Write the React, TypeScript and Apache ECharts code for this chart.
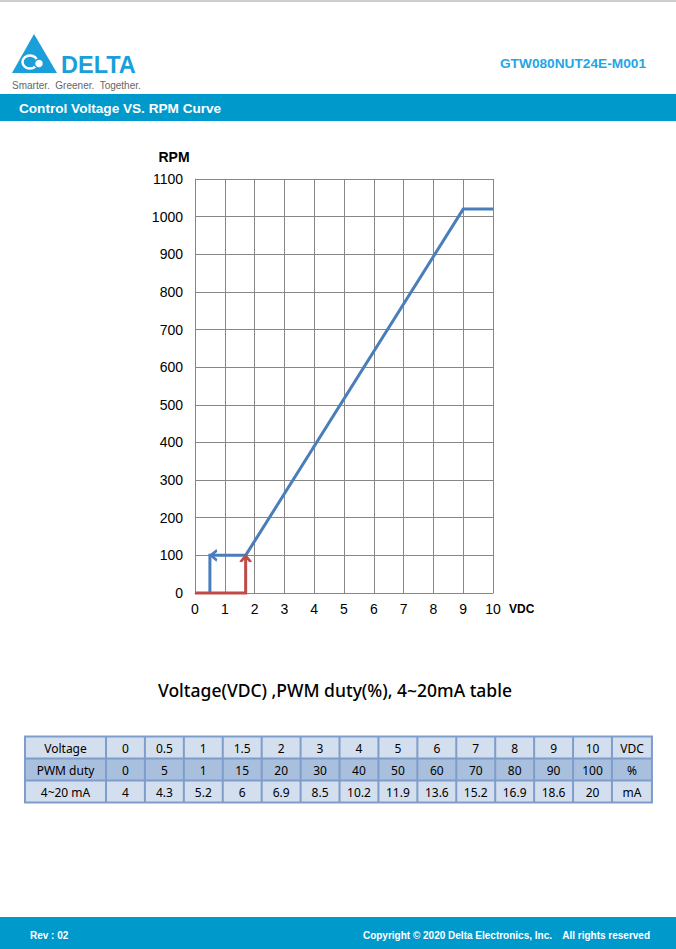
import React, { useEffect, useRef } from "react";
import * as echarts from "echarts";

// ---- chart data ----
const curveVdc = [1.7, 9, 10];
const curveRpm = [100, 1020, 1020];
const startVdc = [0, 1.7, 1.7];
const startRpm = [0, 0, 100];
const stopVdc = [1.7, 0.5, 0.5];
const stopRpm = [100, 100, 0];

// ---- table data ----
const rowLabels = ["Voltage", "PWM duty", "4~20 mA"];
const rowUnits = ["VDC", "%", "mA"];
const tableVoltage = ["0", "0.5", "1", "1.5", "2", "3", "4", "5", "6", "7", "8", "9", "10"];
const tablePwmDuty = ["0", "5", "1", "15", "20", "30", "40", "50", "60", "70", "80", "90", "100"];
const tableCurrent = ["4", "4.3", "5.2", "6", "6.9", "8.5", "10.2", "11.9", "13.6", "15.2", "16.9", "18.6", "20"];

const BLUE = "#4A7EBB";
const RED = "#BE4B48";
const GRID = "#878787";
const BAND = "#0099CC";
const LOGO = "#1B9FDA";
const AR = "'Liberation Sans', Arial, sans-serif";
const OS = "'Noto Sans', 'Open Sans', sans-serif";

function buildTable(): any[] {
  const x0 = 25;
  const y0 = 736.5;
  const labelW = 81;
  const cellW = 38.92;
  const unitW = 40;
  const rowH = 22;
  const rows = [tableVoltage, tablePwmDuty, tableCurrent];
  const fills = ["#D3DEEE", "#A9BFDE", "#D3DEEE"];
  const els: any[] = [];
  const colX: number[] = [x0, x0 + labelW];
  for (let i = 0; i < tableVoltage.length; i++) colX.push(x0 + labelW + cellW * (i + 1));
  colX.push(colX[colX.length - 1] + unitW);
  const totalW = colX[colX.length - 1] - x0;
  rows.forEach((vals, r) => {
    const y = y0 + r * rowH;
    els.push({ type: "rect", shape: { x: x0, y, width: totalW, height: rowH }, style: { fill: fills[r] } });
    const cells = [rowLabels[r], ...vals, rowUnits[r]];
    cells.forEach((t, c) => {
      els.push({
        type: "text",
        x: (colX[c] + colX[c + 1]) / 2,
        y: y + rowH / 2 + 0.5,
        style: { text: t, fill: "#000", font: `12px ${OS}`, align: "center", verticalAlign: "middle" },
      });
    });
  });
  const lineStyle = { stroke: "#7E9DCB", lineWidth: 2 };
  for (let r = 0; r <= rows.length; r++) {
    const y = y0 + r * rowH;
    els.push({ type: "line", shape: { x1: x0 - 1, y1: y, x2: x0 + totalW + 1, y2: y }, style: lineStyle });
  }
  colX.forEach((x) => {
    els.push({ type: "line", shape: { x1: x, y1: y0, x2: x, y2: y0 + rows.length * rowH }, style: lineStyle });
  });
  return els;
}

function buildHeaderFooter(): any[] {
  const narrow = `bold 10px 'Liberation Sans Narrow', ${AR}`;
  return [
    { type: "rect", shape: { x: 0, y: 0, width: 676, height: 2 }, style: { fill: "#CDCDCD" } },
    // logo
    { type: "polygon", shape: { points: [[12, 73], [34, 34], [57, 73]] }, style: { fill: LOGO } },
    { type: "ellipse", shape: { cx: 30, cy: 62, rx: 7.5, ry: 6.5 }, style: { fill: "none", stroke: "#fff", lineWidth: 2.5 } },
    { type: "circle", shape: { cx: 39, cy: 63.5, r: 4.5 }, style: { fill: "#fff", stroke: LOGO, lineWidth: 1.5 } },
    { type: "text", x: 61, y: 65, style: { text: "DELTA", fill: LOGO, font: `900 23.5px ${AR}`, align: "left", verticalAlign: "middle" } },
    { type: "text", x: 12, y: 85, style: { text: "Smarter.  Greener.  Together.", fill: "#666", font: `10px ${AR}`, align: "left", verticalAlign: "middle" } },
    { type: "text", x: 646, y: 63, style: { text: "GTW080NUT24E-M001", fill: "#1FA6E6", font: `bold 13.7px ${AR}`, align: "right", verticalAlign: "middle" } },
    { type: "rect", shape: { x: 0, y: 94, width: 676, height: 27 }, style: { fill: BAND } },
    { type: "text", x: 19, y: 108, style: { text: "Control Voltage VS. RPM Curve", fill: "#fff", font: `bold 13.6px ${AR}`, align: "left", verticalAlign: "middle" } },
    // axis titles
    { type: "text", x: 174, y: 157, style: { text: "RPM", fill: "#000", font: `bold 14px ${AR}`, align: "center", verticalAlign: "middle" } },
    { type: "text", x: 509, y: 609, style: { text: "VDC", fill: "#000", font: `bold 12px ${AR}`, align: "left", verticalAlign: "middle" } },
    // table title
    { type: "text", x: 335, y: 690, style: { text: "Voltage(VDC) ,PWM duty(%), 4~20mA table", fill: "#000", font: `500 17.5px ${OS}`, align: "center", verticalAlign: "middle" } },
    // footer
    { type: "rect", shape: { x: 0, y: 917, width: 676, height: 32 }, style: { fill: BAND } },
    { type: "text", x: 30, y: 935, style: { text: "Rev : 02", fill: "#fff", font: narrow, align: "left", verticalAlign: "middle" } },
    { type: "text", x: 552, y: 935, style: { text: "Copyright © 2020 Delta Electronics, Inc.", fill: "#fff", font: narrow, align: "right", verticalAlign: "middle" } },
    { type: "text", x: 650, y: 935, style: { text: "All rights reserved", fill: "#fff", font: narrow, align: "right", verticalAlign: "middle" } },
  ];
}

export default function App() {
  const ref = useRef<HTMLDivElement>(null);
  useEffect(() => {
    if (!ref.current) return;
    const chart = echarts.init(ref.current, undefined, { renderer: "svg" });
    const axisCommon = {
      type: "value" as const,
      axisLine: { show: true, lineStyle: { color: GRID, width: 1 } },
      axisTick: { show: false },
      splitLine: { show: true, lineStyle: { color: GRID, width: 1 } },
    };
    chart.setOption({
      animation: false,
      grid: { left: 195, top: 179, width: 298, height: 414, containLabel: false },
      xAxis: {
        ...axisCommon,
        min: 0,
        max: 10,
        interval: 1,
        axisLabel: { color: "#000", fontSize: 14, fontFamily: AR, margin: 9, formatter: (v: number) => String(v) },
      },
      yAxis: {
        ...axisCommon,
        min: 0,
        max: 1100,
        interval: 100,
        axisLabel: { color: "#000", fontSize: 14, fontFamily: AR, margin: 12, formatter: (v: number) => String(v) },
      },
      series: [
        {
          type: "line",
          name: "Stop",
          clip: false,
          symbol: "none",
          showSymbol: true,
          lineStyle: { color: BLUE, width: 3, join: "miter" },
          itemStyle: { color: BLUE },
          emphasis: { disabled: true },
          data: stopVdc.map((v, i) =>
            i === 1
              ? {
                  value: [v, stopRpm[i]],
                  symbol: "path://M10,0L0,5L10,10",
                  symbolSize: [6, 10],
                  symbolOffset: [4, 0],
                  itemStyle: { color: "rgba(0,0,0,0)", borderColor: BLUE, borderWidth: 2.5 },
                }
              : { value: [v, stopRpm[i]] }
          ),
        },
        {
          type: "line",
          name: "RPM",
          clip: false,
          symbol: "none",
          lineStyle: { color: BLUE, width: 3, join: "miter" },
          itemStyle: { color: BLUE },
          emphasis: { disabled: true },
          data: curveVdc.map((v, i) => [v, curveRpm[i]]),
        },
        {
          type: "line",
          name: "Start",
          clip: false,
          symbol: "none",
          showSymbol: true,
          lineStyle: { color: RED, width: 3, join: "miter" },
          itemStyle: { color: RED },
          emphasis: { disabled: true },
          data: startVdc.map((v, i) =>
            i === 2
              ? {
                  value: [v, startRpm[i]],
                  symbol: "path://M0,10L5,0L10,10",
                  symbolSize: [10, 6],
                  symbolOffset: [0, 3.5],
                  itemStyle: { color: "rgba(0,0,0,0)", borderColor: RED, borderWidth: 2.5 },
                }
              : { value: [v, startRpm[i]] }
          ),
        },
      ],
      graphic: [...buildHeaderFooter(), ...buildTable()],
    });
    return () => chart.dispose();
  }, []);
  return (
    <div
      ref={ref}
      style={{ position: "absolute", left: 0, top: 0, width: 676, height: 949, background: "#fff" }}
    />
  );
}
